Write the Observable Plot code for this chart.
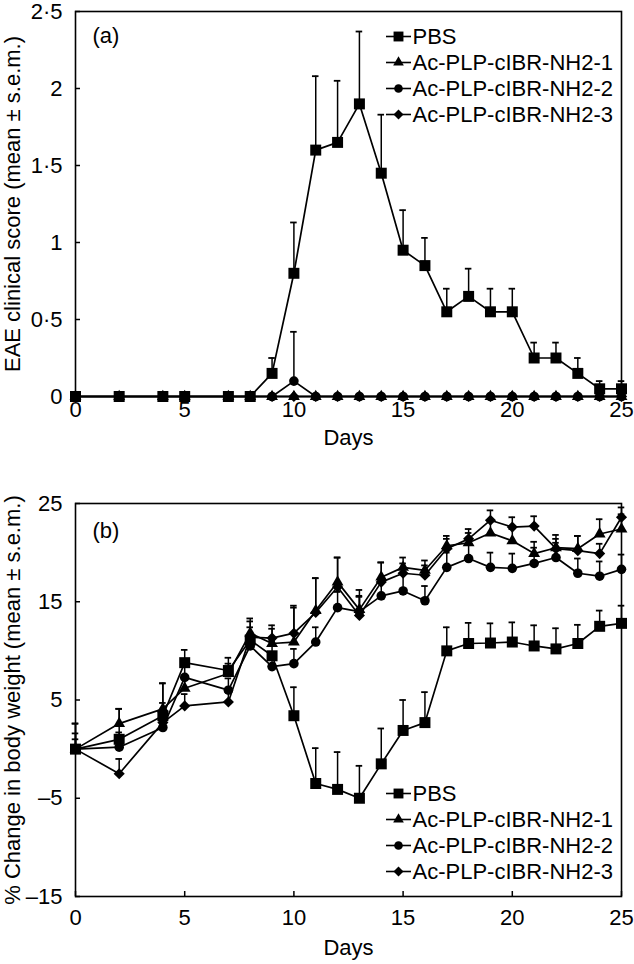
<!DOCTYPE html>
<html><head><meta charset="utf-8">
<script src="https://cdn.jsdelivr.net/npm/d3@7"></script>
<script src="https://cdn.jsdelivr.net/npm/@observablehq/plot@0.6"></script>
<style>
body{margin:0;background:#fff}
#chart svg{display:block}
</style>
</head><body><div id="chart"></div>
<script>
// ---------- data ----------
const days = [0,2,4,5,7,8,9,10,11,12,13,14,15,16,17,18,19,20,21,22,23,24,25];
const seriesNames = ["PBS","Ac-PLP-cIBR-NH2-1","Ac-PLP-cIBR-NH2-2","Ac-PLP-cIBR-NH2-3"];

// Panel (a): EAE clinical score
const pbsA    = [0,0,0,0,0,0,0.15,0.8,1.6,1.65,1.9,1.45,0.95,0.85,0.55,0.65,0.55,0.55,0.25,0.25,0.15,0.05,0.05];
const pbsASem = [0,0,0,0,0,0,0.1,0.33,0.48,0.4,0.47,0.38,0.26,0.18,0.15,0.18,0.15,0.15,0.1,0.1,0.1,0.05,0.05];
const t1A     = [0,0,0,0,0,0,0,0,0,0,0,0,0,0,0,0,0,0,0,0,0,0,0];
const t1ASem  = [0,0,0,0,0,0,0,0,0,0,0,0,0,0,0,0,0,0,0,0,0,0,0];
const t2A     = [0,0,0,0,0,0,0,0.1,0,0,0,0,0,0,0,0,0,0,0,0,0,0,0];
const t2ASem  = [0,0,0,0,0,0,0,0.32,0,0,0,0,0,0,0,0,0,0,0,0,0,0,0];
const t3A     = [0,0,0,0,0,0,0,0,0,0,0,0,0,0,0,0,0,0,0,0,0,0,0];
const t3ASem  = [0,0,0,0,0,0,0,0,0,0,0,0,0,0,0,0,0,0,0,0,0,0,0];

// Panel (b): % change in body weight
const pbsB    = [0,1.0,3.4,8.8,8.0,11.1,9.5,3.4,-3.5,-4.1,-5.0,-1.5,1.9,2.7,10.0,10.75,10.8,10.9,10.5,10.2,10.75,12.5,12.8];
const pbsBSem = [2.6,3.1,3.3,1.3,1.3,1.9,1.5,2.9,3.6,3.8,3.3,3.6,3.1,3.1,2.4,2.1,2.0,2.0,2.1,2.1,1.9,1.6,1.8];
const t1B     = [0,2.6,4.1,6.2,7.7,11.8,10.75,10.9,14.1,17.0,14.2,17.5,18.5,18.2,20.7,21.0,22.0,21.2,19.9,20.5,20.4,21.9,22.4];
const t1BSem  = [2.6,1.5,2.6,1.3,1.0,1.5,1.5,3.5,3.3,2.5,2.0,1.5,1.0,1.0,1.0,1.0,1.2,1.2,1.2,1.3,1.3,1.5,1.5];
const t2B     = [0,0.2,2.2,7.3,6.0,10.5,8.4,8.7,10.9,14.4,14.0,15.6,16.1,15.1,18.5,19.4,18.5,18.4,18.9,19.5,17.9,17.6,18.3];
const t2BSem  = [1.6,1.5,1.5,1.2,1.2,1.2,1.5,1.5,1.5,1.6,1.5,1.5,1.7,1.5,1.5,1.5,1.5,1.5,1.6,1.5,1.5,1.5,1.5];
const t3B     = [0,-2.5,2.7,4.4,4.8,11.4,11.3,11.8,13.9,16.5,13.6,17.0,17.9,17.7,20.4,21.4,23.3,22.6,22.7,20.4,20.2,19.9,23.6];
const t3BSem  = [1.0,1.5,2.0,1.2,1.0,1.0,1.3,2.8,3.5,3.0,2.0,2.0,1.0,1.0,1.0,1.0,1.0,1.0,1.0,1.0,1.5,1.0,1.0];

// ticks
const xTicks = [0,5,10,15,20,25];
const xTickLabels = ["0","5","10","15","20","25"];
const yTicksA = [0,0.5,1,1.5,2,2.5];
const yTickLabelsA = ["0","0·5","1","1·5","2","2·5"];
const yTicksB = [-15,-5,5,15,25];
const yTickLabelsB = ["–15","–5","5","15","25"];

// ---------- build ----------
const symbols = ["square","triangle","circle","diamond2"];
const symbolR = [6.2,4.4,4.8,5];
const drawOrder = [1,3,2,0]; // triangles, diamonds, circles, then squares on top
const lineSym = {draw(ctx, size){ const r = Math.sqrt(size/Math.PI); ctx.moveTo(-r,0); ctx.lineTo(r,0); }};
const FONT = "'Liberation Sans', Arial, Helvetica, sans-serif";
const FS = 22;

function tidy(valsList, semList){
  const out = [];
  valsList.forEach((vals, s) => vals.forEach((v, i) => out.push({series: s, day: days[i], value: v, sem: semList[s][i]})));
  return out;
}
const dataA = tidy([pbsA,t1A,t2A,t3A],[pbsASem,t1ASem,t2ASem,t3ASem]);
const dataB = tidy([pbsB,t1B,t2B,t3B],[pbsBSem,t1BSem,t2BSem,t3BSem]);

function legendMarks(dyStart){
  return seriesNames.flatMap((name, i) => [
    Plot.dot([name], {frameAnchor: "top-left", dx: 323, dy: dyStart + 26*i, symbol: lineSym, r: 12.5, stroke: "black", strokeWidth: 1.6, fill: "none"}),
    Plot.dot([name], {frameAnchor: "top-left", dx: 323, dy: dyStart + 26*i, symbol: symbols[i], r: symbolR[i]*0.9, fill: "black"}),
    Plot.text([name], {frameAnchor: "top-left", dx: 337, dy: dyStart + 26*i, text: d => d, textAnchor: "start", lineAnchor: "middle", fontSize: FS, fill: "black"})
  ]);
}

function panel({data, yDomain, yTicks, yTickLabels, yLabel, tag, tagDy, legendDy, height, marginTop, marginBottom, xTickPadding, xLabelOffset}){
  const marks = [
    Plot.axisX({ticks: xTicks, tickFormat: d => xTickLabels[xTicks.indexOf(d)], tickSize: -5, tickPadding: xTickPadding, fontSize: FS,
      label: "Days", labelAnchor: "center", labelOffset: xLabelOffset, labelArrow: false, strokeWidth: 1.5}),
    Plot.axisY({ticks: yTicks, tickFormat: d => yTickLabels[yTicks.indexOf(d)], tickSize: -5, tickPadding: 18, fontSize: FS,
      label: yLabel, labelAnchor: "center", labelOffset: 71, labelArrow: false, strokeWidth: 1.5}),
    Plot.ruleX(data.filter(d => d.sem > 0), {x: "day", y1: "value", y2: d => d.value + d.sem, stroke: "black", strokeWidth: 1.5}),
    Plot.ruleY(data.filter(d => d.sem > 0), {y: d => d.value + d.sem, x1: d => d.day - 0.15, x2: d => d.day + 0.15, stroke: "black", strokeWidth: 1.8}),
    Plot.line(data, {x: "day", y: "value", z: "series", stroke: "black", strokeWidth: 1.7}),
    ...drawOrder.map(s => Plot.dot(data.filter(d => d.series === s), {x: "day", y: "value", symbol: symbols[s], r: symbolR[s], fill: "black"})),
    Plot.frame({stroke: "black", strokeWidth: 1.6}),
    Plot.text([tag], {frameAnchor: "top-left", dx: 17, dy: tagDy, text: d => d, textAnchor: "start", lineAnchor: "middle", fontSize: FS, fill: "black"}),
    ...legendMarks(legendDy)
  ];
  return Plot.plot({
    width: 634, height, marginLeft: 75, marginRight: 13, marginTop, marginBottom,
    style: {fontFamily: FONT, fontSize: FS + "px", color: "black", background: "white"},
    x: {domain: [0,25]},
    y: {domain: yDomain},
    marks
  });
}

const chartA = panel({data: dataA, yDomain: [0,2.5], yTicks: yTicksA, yTickLabels: yTickLabelsA,
  yLabel: "EAE clinical score (mean ± s.e.m.)", tag: "(a)", tagDy: 24, legendDy: 25,
  height: 482, marginTop: 11, marginBottom: 86, xTickPadding: 10, xLabelOffset: 48});
const chartB = panel({data: dataB, yDomain: [-15,25], yTicks: yTicksB, yTickLabels: yTickLabelsB,
  yLabel: "% Change in body weight (mean ± s.e.m.)", tag: "(b)", tagDy: 27, legendDy: 290,
  height: 482, marginTop: 21, marginBottom: 68, xTickPadding: 18, xLabelOffset: 58});
document.getElementById("chart").append(chartA, chartB);
</script>
</body></html>
